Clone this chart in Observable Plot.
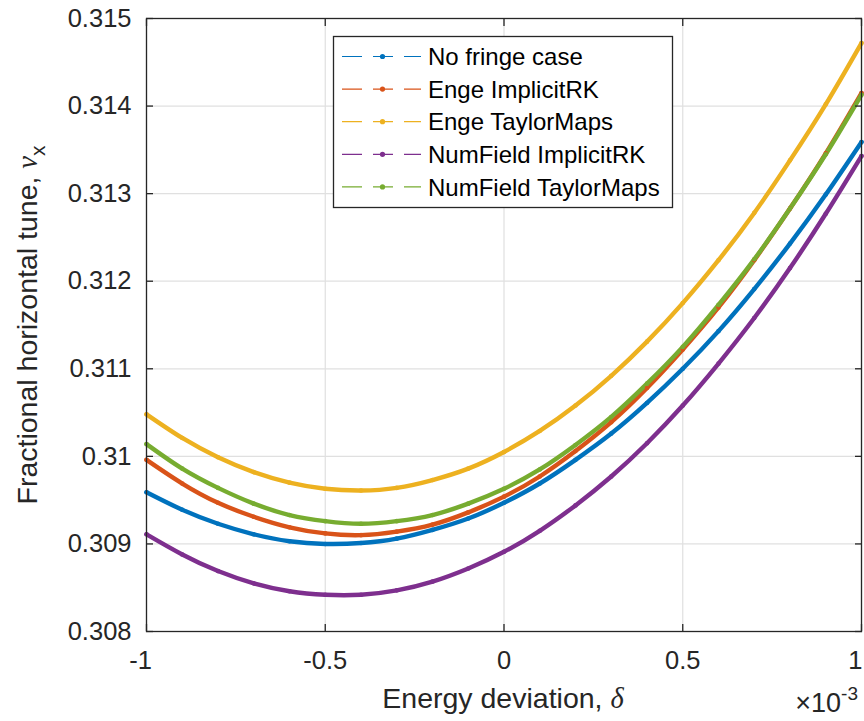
<!DOCTYPE html>
<html><head><meta charset="utf-8">
<script src="https://cdn.jsdelivr.net/npm/d3@7"></script>
<script src="https://cdn.jsdelivr.net/npm/@observablehq/plot@0.6"></script>
<style>body{margin:0;background:#fff} #chart{width:864px;height:721px}</style>
</head><body><div id="chart"></div>
<script>
// Energy deviation (units of 1e-3)
const delta = [-1.0, -0.9, -0.8, -0.7, -0.6, -0.5, -0.4, -0.3, -0.2, -0.1, 0.0, 0.1, 0.2, 0.3, 0.4, 0.5, 0.6, 0.7, 0.8, 0.9, 1.0];
const seriesNames = ["No fringe case", "Enge ImplicitRK", "Enge TaylorMaps", "NumField ImplicitRK", "NumField TaylorMaps"];
const seriesColors = ["#0072BD", "#D95319", "#EDB120", "#7E2F8E", "#77AC30"];
const noFringe = [0.30959, 0.30939, 0.30923, 0.30911, 0.30903, 0.30900, 0.30901, 0.30906, 0.30916, 0.30929, 0.30947, 0.30969, 0.30996, 0.31026, 0.31061, 0.31100, 0.31143, 0.31191, 0.31243, 0.31299, 0.31359];
const engeImplicitRK = [0.30996, 0.30969, 0.30947, 0.30931, 0.30919, 0.30912, 0.30910, 0.30914, 0.30922, 0.30936, 0.30954, 0.30977, 0.31006, 0.31039, 0.31078, 0.31122, 0.31170, 0.31224, 0.31283, 0.31346, 0.31415];
const engeTaylorMaps = [0.31048, 0.31021, 0.30999, 0.30982, 0.30970, 0.30963, 0.30961, 0.30964, 0.30973, 0.30986, 0.31005, 0.31029, 0.31058, 0.31092, 0.31131, 0.31175, 0.31224, 0.31278, 0.31338, 0.31402, 0.31472];
const numFieldImplicitRK = [0.30911, 0.30888, 0.30869, 0.30855, 0.30846, 0.30842, 0.30842, 0.30847, 0.30857, 0.30872, 0.30891, 0.30915, 0.30944, 0.30977, 0.31015, 0.31058, 0.31106, 0.31158, 0.31215, 0.31277, 0.31343];
const numFieldTaylorMaps = [0.31014, 0.30986, 0.30964, 0.30946, 0.30933, 0.30926, 0.30923, 0.30926, 0.30933, 0.30946, 0.30963, 0.30985, 0.31013, 0.31045, 0.31083, 0.31125, 0.31173, 0.31225, 0.31283, 0.31345, 0.31413];
const xTicks = [-1, -0.5, 0, 0.5, 1];
const xTickLabels = ["-1", "-0.5", "0", "0.5", "1"];
const yTicks = [0.308, 0.309, 0.310, 0.311, 0.312, 0.313, 0.314, 0.315];
const yTickLabels = ["0.308", "0.309", "0.31", "0.311", "0.312", "0.313", "0.314", "0.315"];

const allSeries = [noFringe, engeImplicitRK, engeTaylorMaps, numFieldImplicitRK, numFieldTaylorMaps];
const rows = [];
allSeries.forEach((vals, si) => vals.forEach((v, i) => rows.push({series: seriesNames[si], d: delta[i], nu: v})));

const FONT = "'Liberation Sans', Arial, Helvetica, sans-serif";
const INK = "#262626";
const GRID = "#e0e0e0";
const xFmt = d => xTickLabels[xTicks.indexOf(d)];
const yFmt = d => yTickLabels[yTicks.findIndex(t => Math.abs(t - d) < 1e-9)];
const blank = () => "";
const xFirst = xTicks.slice(0, 1), xMid = xTicks.slice(1, -1), xLast = xTicks.slice(-1);

const svgNode = Plot.plot({
  width: 864, height: 721,
  marginLeft: 146, marginRight: 3, marginTop: 18, marginBottom: 90,
  style: {fontFamily: FONT, color: INK, background: "white"},
  x: {domain: [-1, 1]},
  y: {domain: [0.308, 0.315]},
  color: {domain: seriesNames, range: seriesColors},
  marks: [
    Plot.gridX(xTicks, {stroke: GRID, strokeOpacity: 1, strokeWidth: 1.2}),
    Plot.gridY(yTicks, {stroke: GRID, strokeOpacity: 1, strokeWidth: 1.2}),
    Plot.line(rows, {x: "d", y: "nu", z: "series", stroke: "series", strokeWidth: 4.4, curve: "natural"}),
    Plot.dot(rows, {x: "d", y: "nu", fill: "series", r: 2.3}),
    Plot.frame({stroke: INK, strokeWidth: 1.3}),
    Plot.axisX(xFirst, {anchor: "bottom", tickSize: 0, tickPadding: 19, tickFormat: xFmt, fontSize: 25.5, label: null, dx: -6}),
    Plot.axisX(xMid, {anchor: "bottom", tickSize: 0, tickPadding: 19, tickFormat: xFmt, fontSize: 25.5, label: null}),
    Plot.axisX(xLast, {anchor: "bottom", tickSize: 0, tickPadding: 19, tickFormat: xFmt, fontSize: 25.5, label: null, textAnchor: "end", dx: 1}),
    Plot.axisX(xTicks, {anchor: "bottom", tickSize: -7, tickFormat: blank, label: null, stroke: INK, strokeWidth: 1.3}),
    Plot.axisX(xTicks, {anchor: "top", tickSize: -7, tickFormat: blank, label: null, stroke: INK, strokeWidth: 1.3}),
    Plot.axisY(yTicks, {anchor: "left", tickSize: 0, tickPadding: 15, tickFormat: yFmt, fontSize: 25.5, label: null}),
    Plot.axisY(yTicks, {anchor: "left", tickSize: -7, tickFormat: blank, label: null, stroke: INK, strokeWidth: 1.3}),
    Plot.axisY(yTicks, {anchor: "right", tickSize: -7, tickFormat: blank, label: null, stroke: INK, strokeWidth: 1.3})
  ]
});
document.getElementById("chart").appendChild(svgNode);
const svg = d3.select(svgNode);

// Axis labels
const yl = svg.append("text")
  .attr("transform", "translate(37,325) rotate(-90)")
  .attr("text-anchor", "middle").attr("fill", INK)
  .style("font-family", FONT).style("font-size", "28.5px");
yl.append("tspan").text("Fractional horizontal tune, ");
yl.append("tspan").style("font-family", "'Liberation Serif', 'DejaVu Serif', serif").style("font-style", "italic").text("ν");
yl.append("tspan").attr("dy", 8).style("font-size", "21px").text("x");

const xl = svg.append("text")
  .attr("x", 503).attr("y", 708)
  .attr("text-anchor", "middle").attr("fill", INK)
  .style("font-family", FONT).style("font-size", "28.5px");
xl.append("tspan").text("Energy deviation, ");
xl.append("tspan").style("font-family", "'Liberation Serif', 'DejaVu Serif', serif").style("font-style", "italic").text("δ");

const ex = svg.append("text")
  .attr("x", 858).attr("y", 712)
  .attr("text-anchor", "end").attr("fill", INK)
  .style("font-family", FONT).style("font-size", "27px");
ex.append("tspan").text("×10");
ex.append("tspan").attr("dy", -12).style("font-size", "19px").text("-3");

// Legend
const lg = svg.append("g");
lg.append("rect").attr("x", 333.5).attr("y", 36.5).attr("width", 339).attr("height", 171)
  .attr("fill", "white").attr("stroke", INK).attr("stroke-width", 1.3);
seriesNames.forEach((name, i) => {
  const cy = 56.5 + i * 32.6;
  lg.append("line").attr("x1", 342).attr("x2", 421).attr("y1", cy).attr("y2", cy)
    .attr("stroke", seriesColors[i]).attr("stroke-width", 1.2).attr("stroke-dasharray", "20,11");
  lg.append("circle").attr("cx", 382.5).attr("cy", cy).attr("r", 2.6).attr("fill", seriesColors[i]);
  lg.append("text").attr("x", 428).attr("y", cy).attr("dy", "0.36em").attr("fill", "#000")
    .attr("text-anchor", "start")
    .style("font-family", FONT).style("font-size", "24px").text(name);
});
</script></body></html>
